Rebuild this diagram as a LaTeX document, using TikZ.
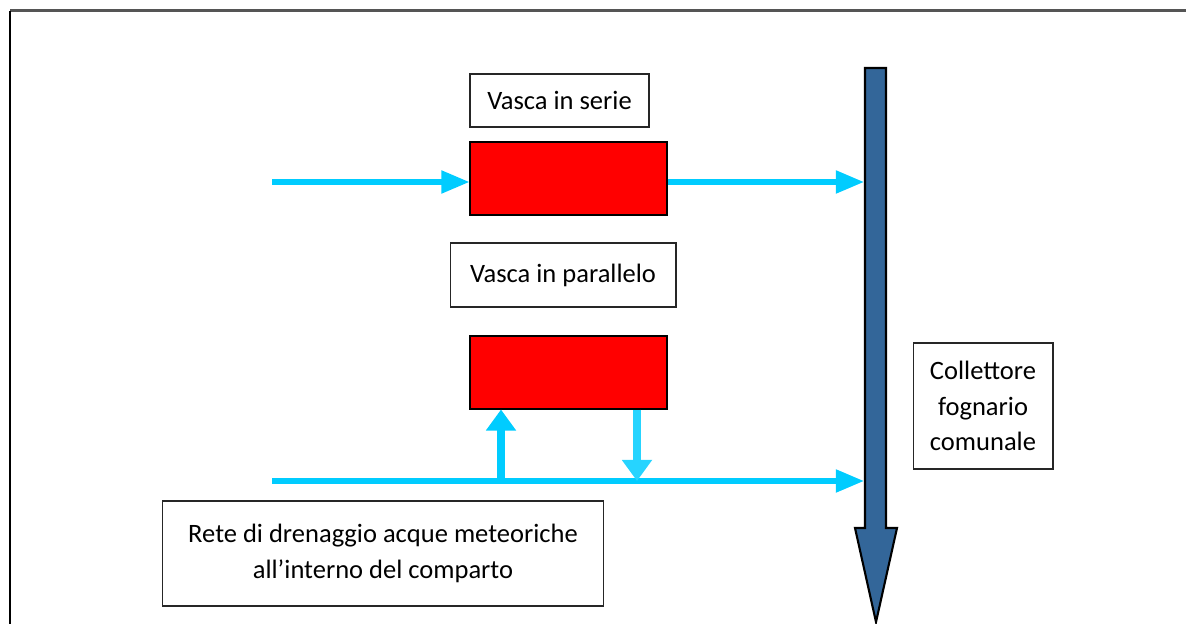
\documentclass[tikz,border=0pt]{standalone}
\usepackage{fontspec}
\setmainfont{Carlito}
\usetikzlibrary{arrows.meta,positioning}
\definecolor{flow}{HTML}{00CCFF}
\definecolor{pipe}{HTML}{336699}
\definecolor{tankred}{HTML}{FF0000}
\definecolor{frame}{HTML}{555555}

\begin{document}
\begin{tikzpicture}[
  x=0.02cm,y=-0.02cm,
  labelbox/.style={draw=black!85,fill=white,line width=0.6pt,align=center,inner sep=0pt,font=\fontsize{15.1}{20.2}\selectfont},
  tank/.style={draw=black,fill=tankred,line width=0.6pt,inner sep=0pt,minimum width=3.94cm,minimum height=1.46cm},
  flow/.style={-{Triangle[length=16pt,width=12.5pt]},line width=3pt,draw=flow},
  riser/.style={-{Triangle[length=12pt,width=16.5pt]},line width=4pt,draw=flow}
]
\useasboundingbox (0,0) rectangle (1186,624);
% page frame
\draw[frame,line width=1.7pt] (10,11) -- (1186,11);
\draw[black,line width=0.9pt] (10,11) -- (10,624);

% collector pipe
\draw[fill=pipe,draw=black,line width=1.2pt]
  (865,68) -- (886,68) -- (886,528) -- (897,528) -- (876,622) -- (855,528) -- (865,528) -- cycle;
\coordinate (pipeA) at (864,182);
\coordinate (pipeB) at (864,481);

% tanks and labels
\node[labelbox,minimum width=3.58cm,minimum height=1.06cm] (serie) at (559.5,100.5) {Vasca in serie};
\node[tank] (tank1) at (568.5,178.5) {};
\node[labelbox,minimum width=4.52cm,minimum height=1.28cm] (parallelo) at (563,275) {Vasca in parallelo};
\node[tank] (tank2) at (568.5,372.5) {};
\node[labelbox,minimum width=2.8cm,minimum height=2.52cm] (collettore) at (983,406) {Collettore\\fognario\\comunale};
\node[labelbox,minimum width=8.84cm,minimum height=2.1cm] (rete) at (383,553.5) {Rete di drenaggio acque meteoriche\\all’interno del comparto};

% flows
\coordinate (inA) at (272,182);
\coordinate (inB) at (272,481);
\coordinate (upB) at (501,481);
\coordinate (downB) at (637,481);
\draw[flow] (inA) -- (tank1.west |- inA);
\draw[flow] (tank1.east |- inA) -- (pipeA);
\draw[flow] (inB) -- (pipeB);
\draw[riser] (upB) -- (upB |- tank2.south);
\draw[riser,draw=flow!85] (downB |- tank2.south) -- (downB);
\end{tikzpicture}
\end{document}
